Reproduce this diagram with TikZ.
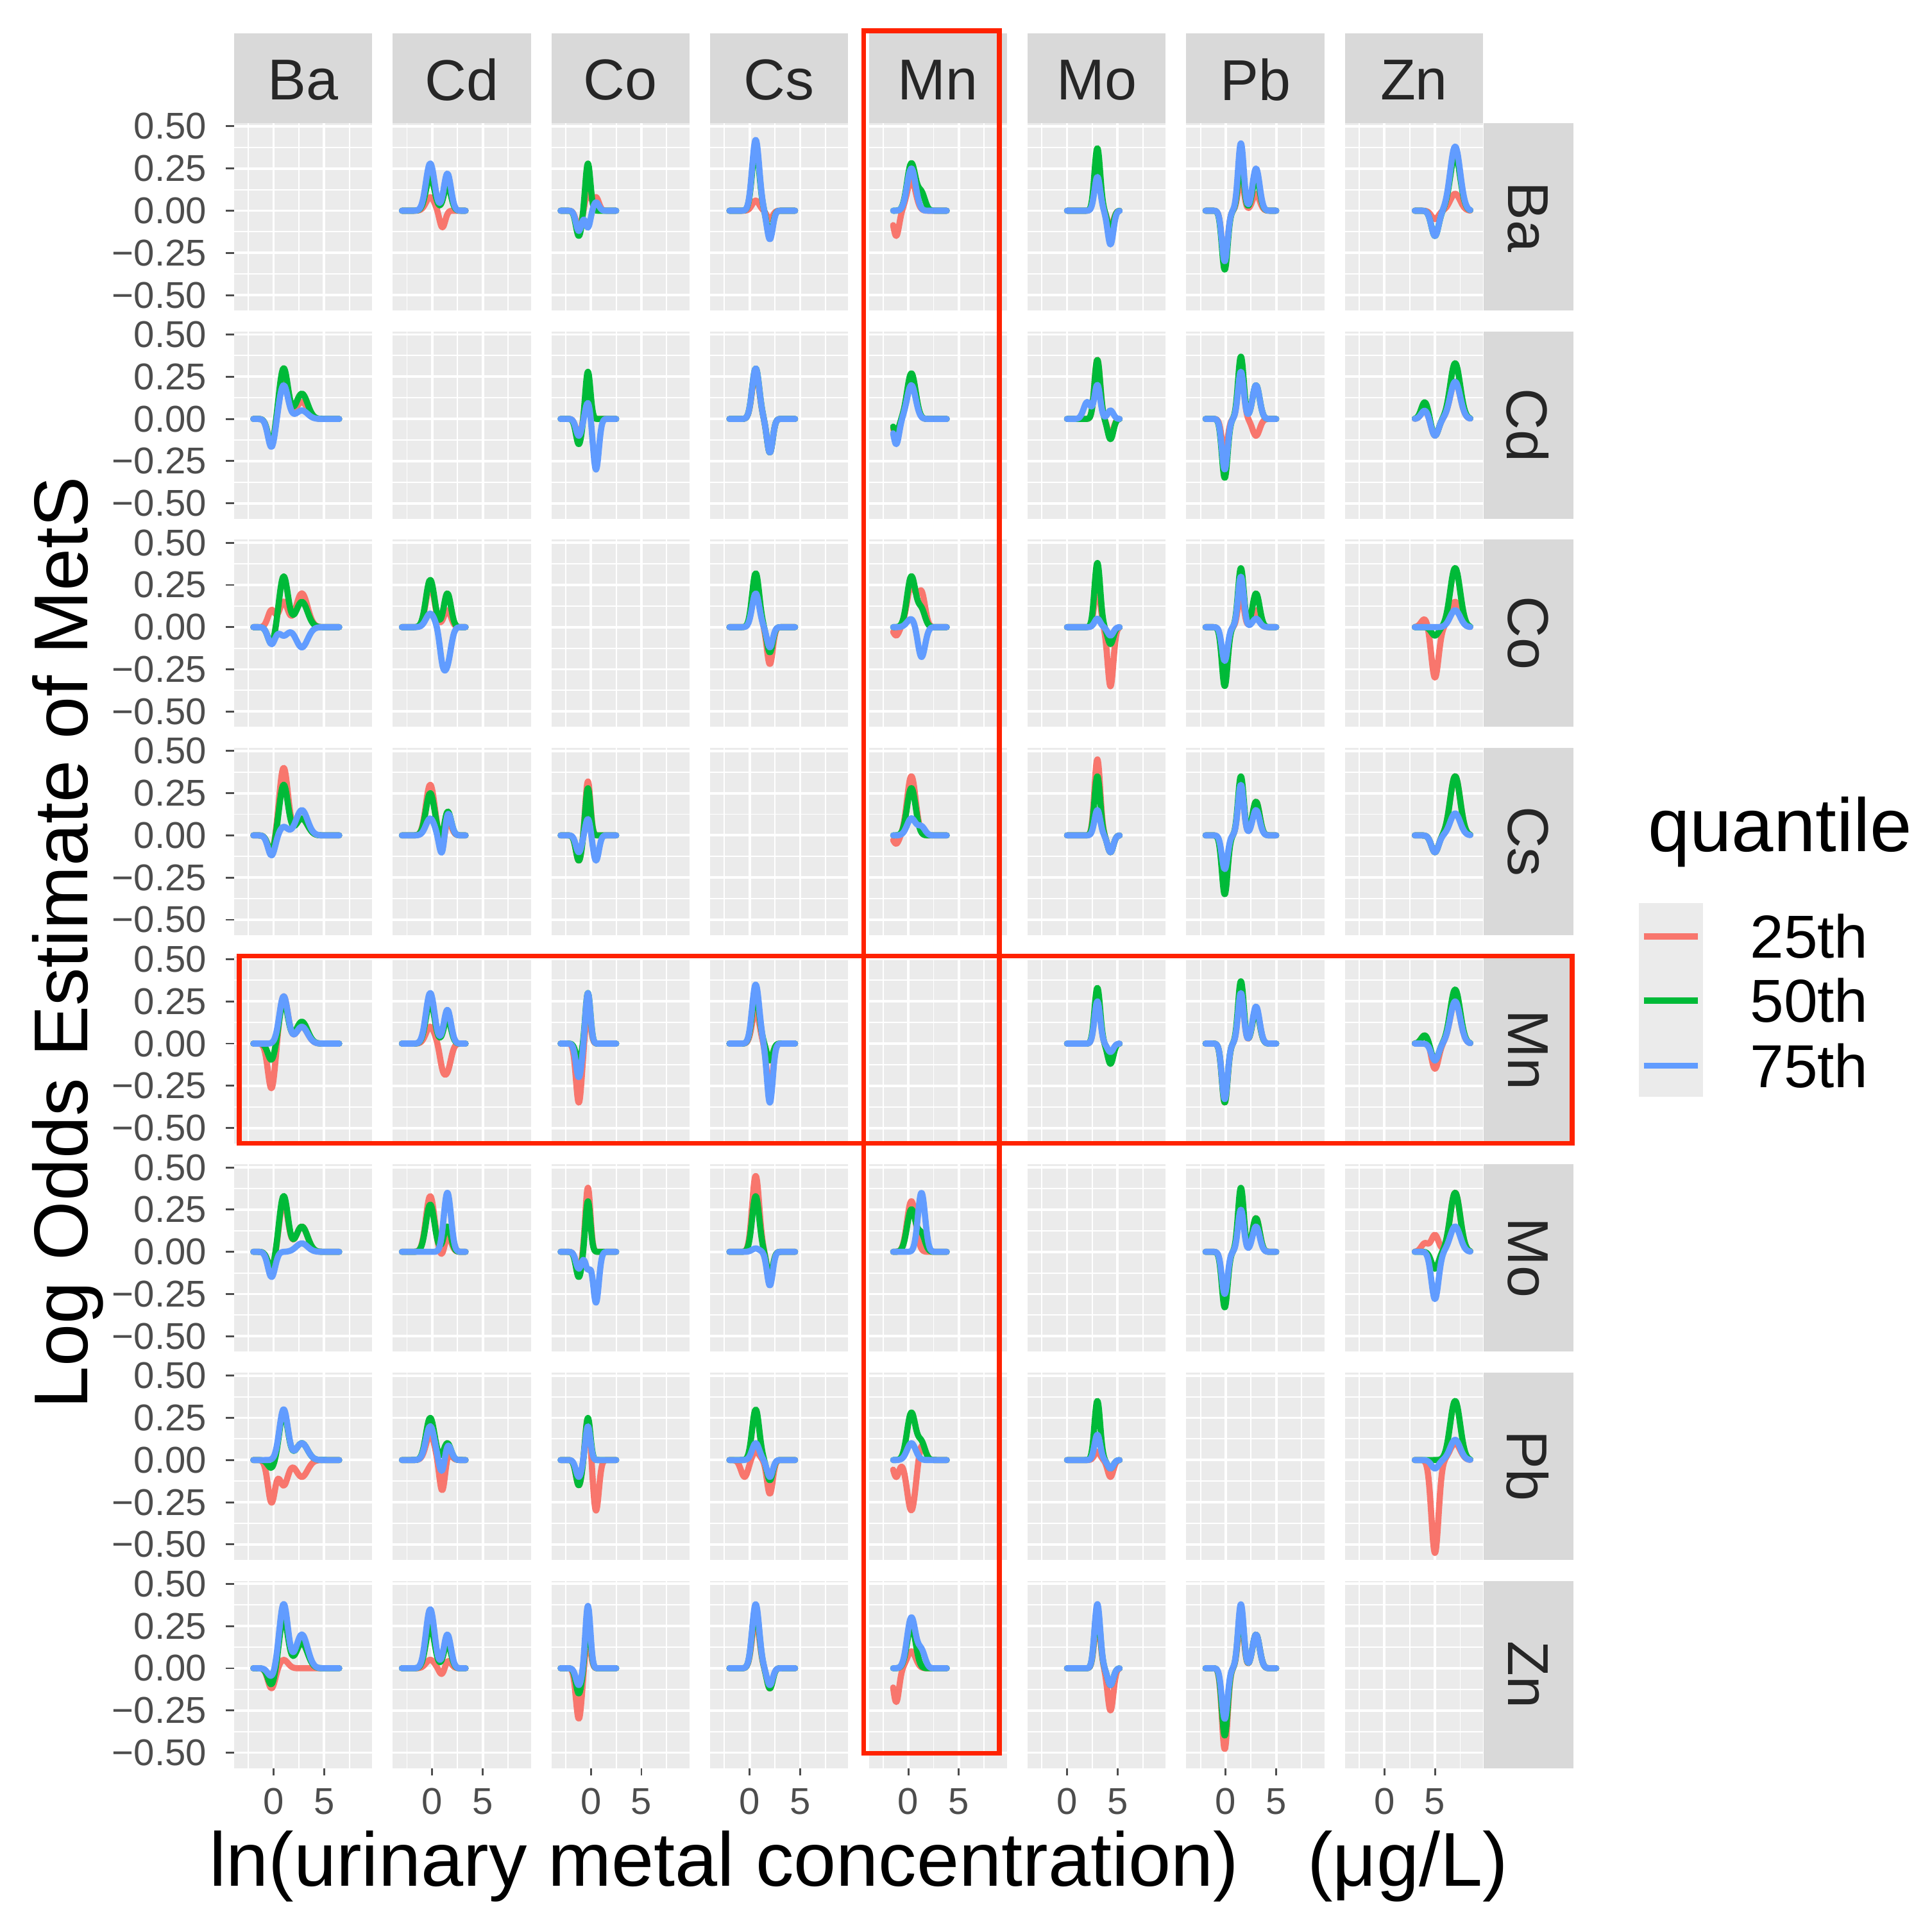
\documentclass[tikz,border=0pt]{standalone}
\usepackage{fontspec}
\setmainfont{Liberation Sans}
\definecolor{qr}{HTML}{F8766D}
\definecolor{qg}{HTML}{00BA38}
\definecolor{qb}{HTML}{619CFF}
\definecolor{pbg}{HTML}{EBEBEB}
\definecolor{sbg}{HTML}{D9D9D9}
\definecolor{hl}{HTML}{FF2200}
\definecolor{tk}{HTML}{4D4D4D}
\newcommand\colpar[1]{\ifcase#1
 \def\cLo{-2}\def\cHi{6.5}\def\cP{1}\def\cWp{0.6}\def\cD{-0.2}\def\cWd{0.5}\def\cS{2.8}\def\cWs{0.8}%
\or\def\cLo{-3}\def\cHi{3.3}\def\cP{-0.2}\def\cWp{0.6}\def\cD{1}\def\cWd{0.4}\def\cS{1.5}\def\cWs{0.5}%
\or\def\cLo{-3}\def\cHi{2.5}\def\cP{-0.3}\def\cWp{0.35}\def\cD{-1.2}\def\cWd{0.4}\def\cS{0.5}\def\cWs{0.4}%
\or\def\cLo{-2}\def\cHi{4.5}\def\cP{0.6}\def\cWp{0.5}\def\cD{2}\def\cWd{0.4}\def\cS{-0.5}\def\cWs{0.5}%
\or\def\cLo{-1.5}\def\cHi{3.8}\def\cP{0.3}\def\cWp{0.6}\def\cD{-1.2}\def\cWd{0.4}\def\cS{1.3}\def\cWs{0.5}%
\or\def\cLo{0}\def\cHi{5.2}\def\cP{3}\def\cWp{0.4}\def\cD{4.3}\def\cWd{0.4}\def\cS{2}\def\cWs{0.5}%
\or\def\cLo{-2}\def\cHi{5}\def\cP{1.5}\def\cWp{0.4}\def\cD{-0.1}\def\cWd{0.4}\def\cS{3}\def\cWs{0.5}%
\or\def\cLo{3}\def\cHi{8.5}\def\cP{7}\def\cWp{0.7}\def\cD{5}\def\cWd{0.5}\def\cS{4}\def\cWs{0.5}%
\fi}
\newcommand\cv[6]{\colpar{#1}%
 \pgfmathsetmacro\xz{222+128.8*#1}\pgfmathsetmacro\yz{171+169*#2}%
 \draw[curve,#3] plot[domain=\cLo:\cHi,samples=70,smooth] ({\xz+8.2*\x},{\yz-137*((#4)*g(\x,\cP,\cWp)+(#5)*g(\x,\cD,\cWd)+(#6)*g(\x,\cS,\cWs))});}
\newcommand\pan[2]{}
\begin{document}
\begin{tikzpicture}[x=0.01cm,y=-0.01cm,
  declare function={g(\t,\m,\s)=exp(-min(((\t-\m)/\s)^2,30));},
  curve/.style={line width=0.05cm,line join=round,line cap=round},
  major/.style={white,line width=0.02cm},
  minor/.style={white,line width=0.01cm},
  strip/.style={font=\fontsize{13.3}{14}\selectfont,text=black!85},
  tick/.style={font=\fontsize{8.6}{9}\selectfont,text=tk},
  hlbox/.style={draw=hl,line width=0.04cm}]
\useasboundingbox[fill=white] (0,0) rectangle (1568,1566);
\def\strips{{"Ba","Cd","Co","Cs","Mn","Mo","Pb","Zn"}}
\foreach \c in {0,...,7}{
  \pgfmathsetmacro\L{190+128.8*\c}
  \pgfmathsetmacro\xo{\L+32}
  \pgfmathsetmacro\nm{\strips[\c]}
  \fill[sbg] (\L,27) rectangle ++(112,73);
  \node[strip] (ts\c) at (\L+56,65) {\nm};
  \foreach \r in {0,...,7}{
    \pgfmathsetmacro\T{100+169*\r}
    \pgfmathsetmacro\yo{\T+71}
    \fill[pbg] (\L,\T) rectangle ++(112,152);
    \foreach \v in {-20.5,20.5,61.5} \draw[minor] (\xo+\v,\T) -- ++(0,152);
    \foreach \v in {-0.375,-0.125,0.125,0.375} \draw[minor] (\L,\yo-137*\v) -- ++(112,0);
    \foreach \v in {0,41} \draw[major] (\xo+\v,\T) -- ++(0,152);
    \foreach \v in {-0.5,-0.25,0,0.25,0.5} \draw[major] (\L,\yo-137*\v) -- ++(112,0);
  }
  \draw[tk,line width=0.015cm] (\xo,1435) -- ++(0,6) (\xo+41,1435) -- ++(0,6);
  \node[tick] (xa\c) at (\xo,1462) {0};
  \node[tick] (xb\c) at (\xo+41,1462) {5};
}
\foreach \r in {0,...,7}{
  \pgfmathsetmacro\T{100+169*\r}
  \pgfmathsetmacro\yo{\T+71}
  \pgfmathsetmacro\nm{\strips[\r]}
  \fill[sbg] (1204,\T) rectangle ++(73,152);
  \node[strip,rotate=-90] (rs\r) at (1240,\T+76) {\nm};
  \foreach \v/\t in {0.5/0.50,0.25/0.25,0/0.00,-0.25/−0.25,-0.5/−0.50}{
    \draw[tk,line width=0.015cm] (183,\yo-137*\v) -- (190,\yo-137*\v);
    \node[tick,anchor=east] at (180,\yo-137*\v) {\t};
  }
}
% row Ba
\cv{1}{0}{qr}{0.08}{-0.1}{0}\cv{1}{0}{qg}{0.2}{0}{0.15}\cv{1}{0}{qb}{0.28}{0}{0.22}
\cv{2}{0}{qr}{0.12}{-0.1}{0.08}\cv{2}{0}{qg}{0.28}{-0.15}{0}\cv{2}{0}{qb}{-0.1}{-0.12}{0.05}
\cv{3}{0}{qr}{0.06}{-0.05}{0}\cv{3}{0}{qg}{0.38}{-0.15}{0}\cv{3}{0}{qb}{0.42}{-0.17}{0}
\cv{4}{0}{qr}{0.18}{-0.15}{0}\cv{4}{0}{qg}{0.28}{0}{0.1}\cv{4}{0}{qb}{0.25}{0}{0}
\cv{5}{0}{qr}{0.28}{-0.1}{0}\cv{5}{0}{qg}{0.37}{-0.12}{0}\cv{5}{0}{qb}{0.2}{-0.2}{0}
\cv{6}{0}{qr}{0.2}{-0.3}{0.1}\cv{6}{0}{qg}{0.3}{-0.35}{0.2}\cv{6}{0}{qb}{0.4}{-0.3}{0.25}
\cv{7}{0}{qr}{0.1}{-0.05}{0}\cv{7}{0}{qg}{0.33}{-0.15}{0}\cv{7}{0}{qb}{0.38}{-0.15}{0}
% row Cd
\cv{0}{1}{qr}{0.25}{-0.15}{0.1}\cv{0}{1}{qg}{0.3}{-0.15}{0.15}\cv{0}{1}{qb}{0.2}{-0.17}{0.05}
\cv{2}{1}{qr}{0.22}{-0.1}{0}\cv{2}{1}{qg}{0.28}{-0.15}{0}\cv{2}{1}{qb}{0.1}{-0.1}{-0.3}
\cv{3}{1}{qr}{0.28}{-0.2}{0}\cv{3}{1}{qg}{0.3}{-0.2}{0}\cv{3}{1}{qb}{0.3}{-0.2}{0}
\cv{4}{1}{qr}{0.25}{-0.1}{0}\cv{4}{1}{qg}{0.27}{-0.08}{0}\cv{4}{1}{qb}{0.2}{-0.15}{0}
\cv{5}{1}{qr}{0.35}{-0.1}{0}\cv{5}{1}{qg}{0.35}{-0.12}{0}\cv{5}{1}{qb}{0.2}{0.05}{0.1}
\cv{6}{1}{qr}{0.3}{-0.2}{-0.1}\cv{6}{1}{qg}{0.37}{-0.35}{0.2}\cv{6}{1}{qb}{0.28}{-0.3}{0.2}
\cv{7}{1}{qr}{0.22}{-0.1}{0.05}\cv{7}{1}{qg}{0.33}{-0.1}{0.1}\cv{7}{1}{qb}{0.22}{-0.1}{0.05}
% row Co
\cv{0}{2}{qr}{0.15}{0.1}{0.2}\cv{0}{2}{qg}{0.3}{-0.1}{0.15}\cv{0}{2}{qb}{-0.05}{-0.1}{-0.12}
\cv{1}{2}{qr}{0.25}{0}{0.1}\cv{1}{2}{qg}{0.28}{0}{0.2}\cv{1}{2}{qb}{0.08}{-0.15}{-0.2}
\cv{3}{2}{qr}{0.25}{-0.22}{0}\cv{3}{2}{qg}{0.32}{-0.15}{0}\cv{3}{2}{qb}{0.2}{-0.12}{0}
\cv{4}{2}{qr}{0.25}{-0.05}{0.2}\cv{4}{2}{qg}{0.3}{0}{0.1}\cv{4}{2}{qb}{0.05}{0}{-0.18}
\cv{5}{2}{qr}{0.25}{-0.35}{0}\cv{5}{2}{qg}{0.38}{-0.1}{0}\cv{5}{2}{qb}{0.05}{-0.05}{0}
\cv{6}{2}{qr}{0.2}{-0.3}{0.1}\cv{6}{2}{qg}{0.35}{-0.35}{0.2}\cv{6}{2}{qb}{0.3}{-0.2}{0.05}
\cv{7}{2}{qr}{0.15}{-0.3}{0.05}\cv{7}{2}{qg}{0.35}{-0.05}{0}\cv{7}{2}{qb}{0.1}{0}{0}
% row Cs
\cv{0}{3}{qr}{0.4}{-0.1}{0.1}\cv{0}{3}{qg}{0.3}{-0.1}{0.1}\cv{0}{3}{qb}{0.05}{-0.12}{0.15}
\cv{1}{3}{qr}{0.3}{-0.1}{0.1}\cv{1}{3}{qg}{0.25}{-0.05}{0.15}\cv{1}{3}{qb}{0.1}{-0.15}{0.15}
\cv{2}{3}{qr}{0.32}{-0.15}{0}\cv{2}{3}{qg}{0.28}{-0.15}{0}\cv{2}{3}{qb}{0.1}{-0.1}{-0.15}
\cv{4}{3}{qr}{0.35}{-0.05}{0}\cv{4}{3}{qg}{0.28}{0}{0}\cv{4}{3}{qb}{0.1}{0}{0.05}
\cv{5}{3}{qr}{0.45}{-0.1}{0}\cv{5}{3}{qg}{0.35}{-0.1}{0}\cv{5}{3}{qb}{0.15}{-0.1}{0}
\cv{6}{3}{qr}{0.3}{-0.3}{0.2}\cv{6}{3}{qg}{0.35}{-0.35}{0.2}\cv{6}{3}{qb}{0.3}{-0.2}{0.15}
\cv{7}{3}{qr}{0.35}{-0.1}{0}\cv{7}{3}{qg}{0.35}{-0.1}{0}\cv{7}{3}{qb}{0.13}{-0.1}{0}
% row Mn
\cv{0}{4}{qr}{0.28}{-0.27}{0.1}\cv{0}{4}{qg}{0.25}{-0.1}{0.13}\cv{0}{4}{qb}{0.28}{0}{0.1}
\cv{1}{4}{qr}{0.1}{-0.1}{-0.15}\cv{1}{4}{qg}{0.25}{0}{0.15}\cv{1}{4}{qb}{0.3}{0}{0.2}
\cv{2}{4}{qr}{0.2}{-0.35}{0}\cv{2}{4}{qg}{0.3}{-0.1}{0}\cv{2}{4}{qb}{0.3}{-0.2}{0}
\cv{3}{4}{qr}{0.2}{-0.3}{0}\cv{3}{4}{qg}{0.3}{-0.1}{0}\cv{3}{4}{qb}{0.35}{-0.35}{0}
\cv{5}{4}{qr}{0.28}{-0.1}{0}\cv{5}{4}{qg}{0.33}{-0.12}{0}\cv{5}{4}{qb}{0.25}{-0.05}{0}
\cv{6}{4}{qr}{0.3}{-0.35}{0.2}\cv{6}{4}{qg}{0.37}{-0.35}{0.2}\cv{6}{4}{qb}{0.3}{-0.33}{0.22}
\cv{7}{4}{qr}{0.25}{-0.15}{0.05}\cv{7}{4}{qg}{0.32}{-0.1}{0.05}\cv{7}{4}{qb}{0.25}{-0.1}{0}
% row Mo
\cv{0}{5}{qr}{0.3}{-0.1}{0.15}\cv{0}{5}{qg}{0.33}{-0.1}{0.15}\cv{0}{5}{qb}{0}{-0.15}{0.05}
\cv{1}{5}{qr}{0.33}{-0.05}{0.1}\cv{1}{5}{qg}{0.28}{0}{0.15}\cv{1}{5}{qb}{0}{0}{0.35}
\cv{2}{5}{qr}{0.38}{-0.1}{0}\cv{2}{5}{qg}{0.3}{-0.15}{0}\cv{2}{5}{qb}{-0.1}{-0.1}{-0.3}
\cv{3}{5}{qr}{0.45}{-0.15}{0}\cv{3}{5}{qg}{0.33}{-0.15}{0}\cv{3}{5}{qb}{0.02}{-0.2}{0}
\cv{4}{5}{qr}{0.3}{0}{0}\cv{4}{5}{qg}{0.25}{0}{0.1}\cv{4}{5}{qb}{0}{0}{0.35}
\cv{6}{5}{qr}{0.3}{-0.3}{0.2}\cv{6}{5}{qg}{0.38}{-0.33}{0.2}\cv{6}{5}{qb}{0.25}{-0.25}{0.15}
\cv{7}{5}{qr}{0.35}{0.1}{0.05}\cv{7}{5}{qg}{0.35}{-0.1}{0}\cv{7}{5}{qb}{0.15}{-0.28}{0}
% row Pb
\cv{0}{6}{qr}{-0.15}{-0.25}{-0.1}\cv{0}{6}{qg}{0.28}{-0.05}{0.1}\cv{0}{6}{qb}{0.3}{0}{0.1}
\cv{1}{6}{qr}{0.15}{-0.2}{0.05}\cv{1}{6}{qg}{0.25}{0}{0.1}\cv{1}{6}{qb}{0.2}{-0.1}{0.1}
\cv{2}{6}{qr}{0.25}{-0.15}{-0.3}\cv{2}{6}{qg}{0.25}{-0.15}{0}\cv{2}{6}{qb}{0.2}{-0.1}{0}
\cv{3}{6}{qr}{0.05}{-0.2}{-0.1}\cv{3}{6}{qg}{0.3}{-0.12}{0}\cv{3}{6}{qb}{0.1}{-0.1}{0}
\cv{4}{6}{qr}{-0.3}{-0.1}{0.1}\cv{4}{6}{qg}{0.28}{0}{0.1}\cv{4}{6}{qb}{0.1}{0}{0}
\cv{5}{6}{qr}{0.05}{-0.1}{0}\cv{5}{6}{qg}{0.35}{-0.05}{0}\cv{5}{6}{qb}{0.15}{-0.05}{0}
\cv{7}{6}{qr}{0.1}{-0.55}{0}\cv{7}{6}{qg}{0.35}{0}{0}\cv{7}{6}{qb}{0.12}{-0.05}{0}
% row Zn
\cv{0}{7}{qr}{0.05}{-0.12}{0}\cv{0}{7}{qg}{0.3}{-0.1}{0.15}\cv{0}{7}{qb}{0.38}{-0.05}{0.2}
\cv{1}{7}{qr}{0.05}{-0.05}{0.05}\cv{1}{7}{qg}{0.25}{0}{0.15}\cv{1}{7}{qb}{0.35}{0}{0.2}
\cv{2}{7}{qr}{0.2}{-0.3}{0}\cv{2}{7}{qg}{0.3}{-0.15}{0}\cv{2}{7}{qb}{0.37}{-0.1}{0}
\cv{3}{7}{qr}{0.3}{-0.12}{0}\cv{3}{7}{qg}{0.35}{-0.12}{0}\cv{3}{7}{qb}{0.38}{-0.1}{0}
\cv{4}{7}{qr}{0.1}{-0.2}{0}\cv{4}{7}{qg}{0.25}{0}{0}\cv{4}{7}{qb}{0.3}{0}{0.1}
\cv{5}{7}{qr}{0.3}{-0.25}{0}\cv{5}{7}{qg}{0.35}{-0.1}{0}\cv{5}{7}{qb}{0.38}{-0.1}{0}
\cv{6}{7}{qr}{0.3}{-0.48}{0.2}\cv{6}{7}{qg}{0.35}{-0.4}{0.2}\cv{6}{7}{qb}{0.38}{-0.3}{0.2}
% titles
\node[rotate=90,font=\fontsize{17.6}{18}\selectfont] (ytitle) at (55,765) {Log Odds Estimate of MetS};
\node[font=\fontsize{17.6}{18}\selectfont] (xtitle) at (697,1515) {ln(urinary metal concentration)\hspace{0.9em}(μg/L)};
% legend
\node[anchor=west,font=\fontsize{17.4}{18}\selectfont] (lt) at (1325,675) {quantile};
\fill[pbg] (1330,733) rectangle (1382,890);
\draw[curve,qr,line cap=butt] (1334,760) -- (1378,760);
\draw[curve,qg,line cap=butt] (1334,812) -- (1378,812);
\draw[curve,qb,line cap=butt] (1334,865) -- (1378,865);
\node[anchor=west,font=\fontsize{14}{15}\selectfont] (l1) at (1408,760) {25th};
\node[anchor=west,font=\fontsize{14}{15}\selectfont] (l2) at (1408,812) {50th};
\node[anchor=west,font=\fontsize{14}{15}\selectfont] (l3) at (1408,865) {75th};
% highlights
\draw[hlbox] (701,25) rectangle (811,1423);
\draw[hlbox] (194,776) rectangle (1276,928);
\end{tikzpicture}
\end{document}
